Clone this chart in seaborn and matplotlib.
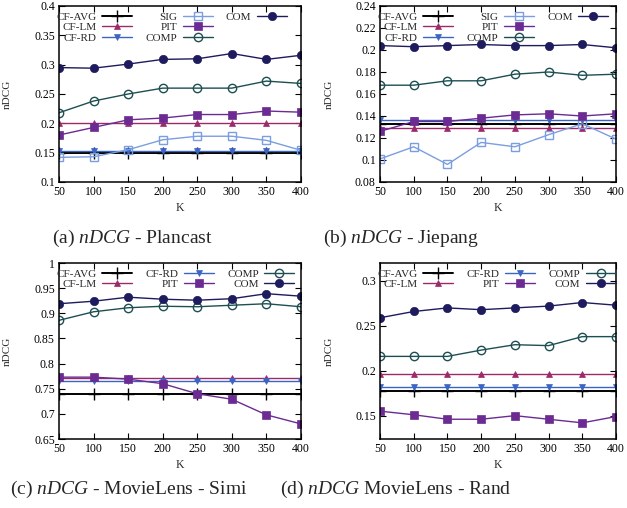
import matplotlib
matplotlib.use("Agg")
import matplotlib.pyplot as plt
from matplotlib.lines import Line2D
from matplotlib.ticker import FuncFormatter
import seaborn as sns

K = [50, 100, 150, 200, 250, 300, 350, 400]

# (a) Plancast
pl_cf_avg = [0.150, 0.150, 0.150, 0.150, 0.150, 0.150, 0.150, 0.150]
pl_cf_lm = [0.200, 0.200, 0.200, 0.200, 0.200, 0.200, 0.200, 0.200]
pl_cf_rd = [0.153, 0.153, 0.153, 0.153, 0.153, 0.153, 0.153, 0.153]
pl_sig = [0.142, 0.143, 0.155, 0.172, 0.178, 0.178, 0.171, 0.154]
pl_pit = [0.180, 0.193, 0.206, 0.209, 0.215, 0.215, 0.221, 0.219]
pl_comp = [0.218, 0.238, 0.250, 0.260, 0.260, 0.260, 0.272, 0.268]
pl_com = [0.295, 0.294, 0.301, 0.309, 0.310, 0.319, 0.309, 0.316]

# (b) Jiepang
jp_cf_avg = [0.133, 0.133, 0.133, 0.133, 0.133, 0.133, 0.133, 0.133]
jp_cf_lm = [0.129, 0.129, 0.129, 0.129, 0.129, 0.129, 0.129, 0.129]
jp_cf_rd = [0.136, 0.136, 0.136, 0.136, 0.136, 0.136, 0.136, 0.136]
jp_sig = [0.101, 0.112, 0.096, 0.116, 0.112, 0.123, 0.133, 0.119]
jp_pit = [0.126, 0.135, 0.135, 0.138, 0.141, 0.142, 0.140, 0.142]
jp_comp = [0.168, 0.168, 0.172, 0.172, 0.178, 0.180, 0.177, 0.178]
jp_com = [0.204, 0.203, 0.204, 0.205, 0.204, 0.204, 0.205, 0.202]

# (c) MovieLens - Simi
ms_cf_avg = [0.739, 0.739, 0.739, 0.739, 0.739, 0.739, 0.739, 0.739]
ms_cf_lm = [0.771, 0.771, 0.771, 0.771, 0.771, 0.771, 0.771, 0.771]
ms_cf_rd = [0.766, 0.766, 0.766, 0.766, 0.766, 0.766, 0.766, 0.766]
ms_pit = [0.773, 0.773, 0.769, 0.760, 0.740, 0.729, 0.698, 0.680]
ms_comp = [0.886, 0.903, 0.911, 0.914, 0.913, 0.916, 0.919, 0.913]
ms_com = [0.919, 0.924, 0.932, 0.928, 0.926, 0.929, 0.939, 0.934]

# (d) MovieLens - Rand
mr_cf_avg = [0.177, 0.177, 0.177, 0.177, 0.177, 0.177, 0.177, 0.177]
mr_cf_lm = [0.196, 0.196, 0.196, 0.196, 0.196, 0.196, 0.196, 0.196]
mr_cf_rd = [0.182, 0.182, 0.182, 0.182, 0.182, 0.182, 0.182, 0.182]
mr_pit = [0.155, 0.151, 0.146, 0.146, 0.150, 0.146, 0.142, 0.149]
mr_comp = [0.216, 0.216, 0.216, 0.223, 0.229, 0.228, 0.238, 0.238]
mr_com = [0.259, 0.266, 0.270, 0.268, 0.270, 0.272, 0.276, 0.273]

captions = [
    r"(a) $\mathit{nDCG}$ - Plancast",
    r"(b) $\mathit{nDCG}$ - Jiepang",
    r"(c) $\mathit{nDCG}$ - MovieLens - Simi",
    r"(d) $\mathit{nDCG}$ MovieLens - Rand",
]

# name -> color, marker, filled
styles = {
    "CF-AVG": ("#000000", "+", True),
    "CF-LM": ("#9c2a6a", "^", True),
    "CF-RD": ("#3b64c4", "v", True),
    "SIG": ("#7a9ee0", "s", False),
    "PIT": ("#6b2b93", "s", True),
    "COMP": ("#1d4f52", "o", False),
    "COM": ("#1e1b5e", "o", True),
}

sns.set_style("ticks", {"xtick.direction": "in", "ytick.direction": "in"})
plt.rcParams["font.family"] = ["Liberation Serif", "DejaVu Serif"]
plt.rcParams["mathtext.fontset"] = "custom"
plt.rcParams["mathtext.it"] = "Liberation Serif:italic"
plt.rcParams["mathtext.rm"] = "Liberation Serif"

fig = plt.figure(figsize=(6.27, 5.08), dpi=100)
W, H = 627, 508


def px_axes(x0, y0, x1, y1):
    return fig.add_axes([x0 / W, 1 - y1 / H, (x1 - x0) / W, (y1 - y0) / H])


def draw(ax, series, ylim, yticks):
    for name, vals in series:
        color, marker, filled = styles[name]
        ms = 6 if marker in ("o", "s") else 5
        lw = 1.4 if name == "CF-AVG" else 1.0
        sns.lineplot(x=K, y=vals, ax=ax, color=color, marker=marker, label=name,
                     markersize=ms if marker != "+" else 8, linewidth=lw,
                     markerfacecolor=color if filled else "none",
                     markeredgecolor=color, markeredgewidth=1.0 if not filled or marker == "+" else 0.5)
    ax.set_xlim(50, 400)
    ax.set_ylim(*ylim)
    ax.set_xticks(K)
    ax.set_yticks(yticks)
    ax.yaxis.set_major_formatter(FuncFormatter(lambda v, p: "%g" % round(v, 3)))
    ax.tick_params(which="both", direction="in", top=True, right=True, length=4,
                   width=0.8, labelsize=8.5, pad=3, colors="black")
    for s in ax.spines.values():
        s.set_linewidth(1.1)
        s.set_color("black")
    ax.set_xlabel("K", fontsize=8.5, labelpad=3)
    ax.set_ylabel("nDCG", fontsize=8)
    ax.yaxis.set_label_coords(-47 / 242, 0.5)

    handles, labels = ax.get_legend_handles_labels()
    # gnuplot-style 3-column key: fill the columns 3 rows deep when there are 7 entries
    if len(handles) == 7:
        blank = Line2D([], [], linestyle="none", marker=None)
        handles += [blank, blank]
        labels += ["", ""]
    ax.legend(handles, labels, ncol=3, loc="upper left", bbox_to_anchor=(-0.03, 0.99),
              frameon=False, markerfirst=False, fontsize=8, handlelength=2.7,
              handletextpad=0.5, columnspacing=1.2, labelspacing=0.05,
              borderpad=0.2, borderaxespad=0.2)


ax_a = px_axes(59, 6, 301, 182)
draw(ax_a, [("CF-AVG", pl_cf_avg), ("CF-LM", pl_cf_lm), ("CF-RD", pl_cf_rd), ("SIG", pl_sig),
            ("PIT", pl_pit), ("COMP", pl_comp), ("COM", pl_com)],
     (0.1, 0.4), [0.1, 0.15, 0.2, 0.25, 0.3, 0.35, 0.4])

ax_b = px_axes(380, 6, 616, 182)
draw(ax_b, [("CF-AVG", jp_cf_avg), ("CF-LM", jp_cf_lm), ("CF-RD", jp_cf_rd), ("SIG", jp_sig),
            ("PIT", jp_pit), ("COMP", jp_comp), ("COM", jp_com)],
     (0.08, 0.24), [0.08, 0.1, 0.12, 0.14, 0.16, 0.18, 0.2, 0.22, 0.24])

ax_c = px_axes(59, 263, 301, 439)
draw(ax_c, [("CF-AVG", ms_cf_avg), ("CF-LM", ms_cf_lm), ("CF-RD", ms_cf_rd),
            ("PIT", ms_pit), ("COMP", ms_comp), ("COM", ms_com)],
     (0.65, 1.0), [0.65, 0.7, 0.75, 0.8, 0.85, 0.9, 0.95, 1.0])

ax_d = px_axes(380, 263, 616, 439)
draw(ax_d, [("CF-AVG", mr_cf_avg), ("CF-LM", mr_cf_lm), ("CF-RD", mr_cf_rd),
            ("PIT", mr_pit), ("COMP", mr_comp), ("COM", mr_com)],
     (0.124, 0.32), [0.15, 0.2, 0.25, 0.3])

cap_pos = [(132, 238), (401, 238), (129, 489), (396, 489)]
for (cx, cy), txt in zip(cap_pos, captions):
    fig.text(cx / W, 1 - cy / H, txt, ha="center", va="center", fontsize=14)

fig.savefig("out.png", dpi=100)
